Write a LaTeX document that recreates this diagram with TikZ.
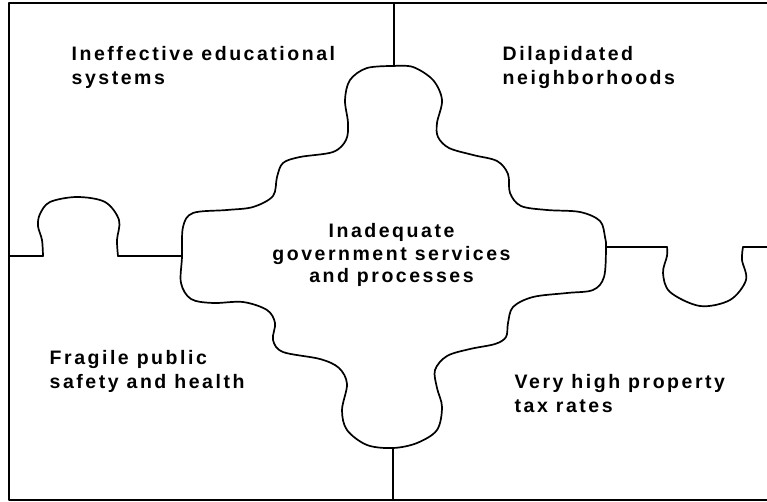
\documentclass[tikz,border=0pt]{standalone}
\usepackage{fontspec}
\setmainfont{Liberation Sans}[LetterSpace=13]
\begin{document}
\begin{tikzpicture}[x=1pt,y=-1pt,
  edge/.style={line width=1.7pt, line join=round, line cap=round},
  curvy/.style={edge, smooth, tension=0.55},
  lbl/.style={inner sep=0pt, font=\fontsize{19.5}{24}\selectfont\bfseries, align=left, anchor=base west},
  clbl/.style={inner sep=0pt, font=\fontsize{19.5}{22.5}\selectfont\bfseries, align=center, anchor=base}]
\useasboundingbox (0,0) rectangle (767,502);
% outer frame (open on the right)
\draw[edge] (767,3) -- (9,3) -- (9,500) -- (767,500);
% vertical dividers
\coordinate (topneck) at (394,66);
\coordinate (botneck) at (393,448);
\draw[edge] (394,3) -- (topneck);
\draw[edge] (botneck) -- (393,500);
% centre piece
\draw[curvy] plot coordinates {
  (394,66) (413,67) (433,80) (442,100) (437,123) (438,137) (449,148) (473,155) (497,161) (508,174) (510,193) (521,206) (547,210) (580,212) (600,221) (605,237) (606,248)
  (604,277) (593,290) (567,293) (533,297) (513,307) (508,323) (506,337) (495,344) (470,349) (447,356) (435,370) (437,388) (442,407) (437,430) (417,443) (393,448)
  (367,445) (347,430) (342,410) (347,384) (339,368) (320,359) (283,352) (273,340) (275,323) (267,310) (243,302) (213,303) (191,299) (181,283) (182,257)
  (183,227) (193,213) (227,210) (253,207) (273,196) (277,177) (283,163) (300,157) (333,152) (346,140) (348,123) (345,100) (350,80) (367,68) (394,66)};
% left divider with upward tab
\draw[edge] (9,256) -- (43,256);
\draw[curvy] plot coordinates {(43,256) (42,240) (38,226) (40,214) (50,202) (77,197) (105,202) (119,220) (117,240) (118,256)};
\draw[edge] (118,256) -- (182,256);
% right divider with downward tab
\draw[edge] (606,247) -- (667,247);
\draw[curvy] plot coordinates {(667,247) (667,256) (663,273) (670,292) (700,306) (730,300) (746,280) (742,260) (743,247)};
\draw[edge] (743,247) -- (767,247);
% labels (base anchor = baseline of last line)
\node[lbl] (edu) at (71.5,85) {Ineffective educational\\systems};
\node[lbl] (dil) at (502.5,84.5) {Dilapidated\\neighborhoods};
\node[clbl] (gov) at (391.5,283) {Inadequate\\government services\\and processes};
\node[lbl] (fra) at (49.5,388.5) {Fragile public\\safety and health};
\node[lbl] (tax) at (514.5,412) {Very high property\\tax rates};
\end{tikzpicture}
\end{document}
